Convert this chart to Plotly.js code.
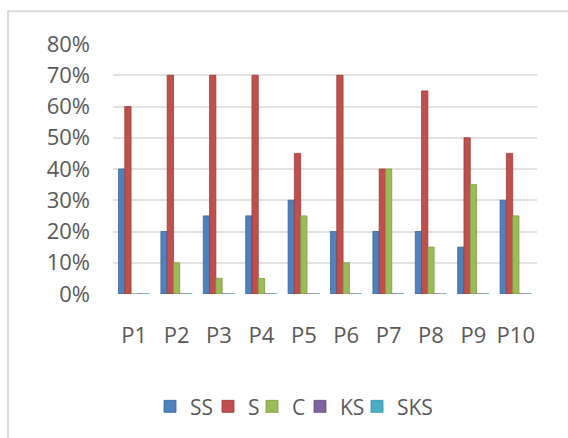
<!DOCTYPE html>
<html>
<head>
<meta charset="utf-8">
<script src="https://cdn.plot.ly/plotly-3.0.1.min.js"></script>
<style>html,body{margin:0;padding:0;background:#fff;}#chart{width:568px;height:438px;}</style>
</head>
<body>
<div id="chart"></div>
<script>
var categories = ["P1","P2","P3","P4","P5","P6","P7","P8","P9","P10"];
var seriesNames = ["SS","S","C","KS","SKS"];
var ssValues  = [0.40,0.20,0.25,0.25,0.30,0.20,0.20,0.20,0.15,0.30];
var sValues   = [0.60,0.70,0.70,0.70,0.45,0.70,0.40,0.65,0.50,0.45];
var cValues   = [0.00,0.10,0.05,0.05,0.25,0.10,0.40,0.15,0.35,0.25];
var ksValues  = [0,0,0,0,0,0,0,0,0,0];
var sksValues = [0,0,0,0,0,0,0,0,0,0];
var yTickValues = [0,0.1,0.2,0.3,0.4,0.5,0.6,0.7,0.8];

var colors = ["#4F81BD","#C0504D","#9BBB59","#8064A2","#4BACC6"];
var edges  = ["#3A6699","#9C3A37","#7D9A42","#654E86","#3590A8"];
var allValues = [ssValues, sValues, cValues, ksValues, sksValues];

// one small legend per series, placed like the reference's legend row
var plotLeft = 113, plotWidth = 424;
var legendLeftPx = [150, 208, 252, 300, 357];
var legendIds = ["legend","legend2","legend3","legend4","legend5"];

var traces = allValues.map(function(v, i){
  return {
    type: "bar",
    name: seriesNames[i],
    x: categories,
    y: v,
    legend: legendIds[i],
    marker: {color: colors[i], line: {color: edges[i], width: 0.8}},
    hoverinfo: "skip"
  };
});

var layout = {
  width: 568, height: 438,
  margin: {l: 113, r: 31, t: 44, b: 143, pad: 0},
  paper_bgcolor: "#ffffff", plot_bgcolor: "#ffffff",
  barmode: "group",
  bargap: 0.26,
  bargroupgap: 0,
  font: {family: "Open Sans, sans-serif", color: "#595959", size: 22},
  xaxis: {
    type: "category",
    showgrid: false, showline: false, zeroline: false,
    ticks: "", ticklabelstandoff: 26,
    tickfont: {family: "Open Sans, sans-serif", size: 22, color: "#595959"}
  },
  yaxis: {
    range: [0, 0.8],
    tickvals: yTickValues,
    tickformat: ".0%",
    showgrid: true, gridcolor: "#e2e2e2", gridwidth: 2,
    zeroline: false, showline: false, ticks: "",
    ticklabelstandoff: 22,
    tickfont: {family: "Open Sans, sans-serif", size: 22, color: "#595959"}
  },
  showlegend: true,
  shapes: [{
    type: "rect", xref: "paper", yref: "paper",
    x0: (8 - 113) / 424, x1: (600 - 113) / 424,
    y0: (295 - 470) / 251, y1: (295 - 11) / 251,
    line: {color: "#d9d9d9", width: 2},
    fillcolor: "rgba(0,0,0,0)",
    layer: "below"
  }]
};

legendIds.forEach(function(id, i){
  layout[id] = {
    orientation: "h",
    x: (legendLeftPx[i] - plotLeft) / plotWidth, xanchor: "left",
    y: -0.445, yanchor: "middle",
    font: {family: "Open Sans, sans-serif", size: 21, color: "#595959"},
    itemwidth: 30,
    bgcolor: "rgba(0,0,0,0)",
    borderwidth: 0
  };
});

Plotly.newPlot("chart", traces, layout, {staticPlot: true, displayModeBar: false});
</script>
</body>
</html>
